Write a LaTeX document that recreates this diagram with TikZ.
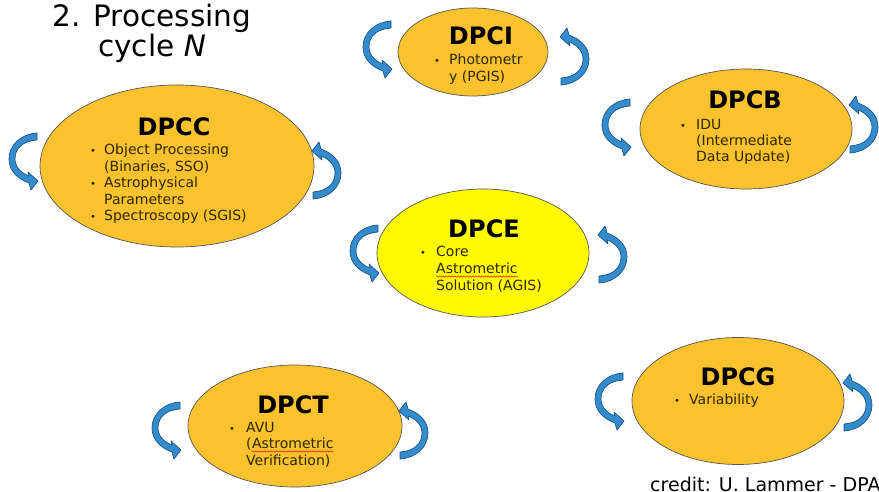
\documentclass[tikz,border=0pt]{standalone}
\usepackage{fontspec}
\setmainfont{DejaVu Sans}
\usetikzlibrary{shapes.geometric,decorations.pathmorphing,calc}

\definecolor{ovalgold}{RGB}{250,194,46}
\definecolor{ovalyellow}{RGB}{255,250,0}
\definecolor{ovalline}{RGB}{85,85,85}
\definecolor{itemtext}{RGB}{45,38,0}
\definecolor{loopfill}{RGB}{52,140,205}
\definecolor{loopline}{RGB}{25,85,135}
\definecolor{spellred}{RGB}{225,30,30}

\tikzset{
  oval/.style={ellipse, draw=ovalline, line width=0.7pt, fill=ovalgold, inner sep=0pt},
  heading/.style={anchor=base, inner sep=0pt, font=\fontsize{24}{28}\selectfont\bfseries},
  itemline/.style={anchor=base west, inner sep=0pt, text=itemtext, font=\fontsize{14}{16}\selectfont},
  itemdot/.style={anchor=base west, inner sep=0pt, text=itemtext, font=\fontsize{10}{12}\selectfont},
  titleline/.style={anchor=base, inner sep=0pt, font=\fontsize{29.5}{34}\selectfont},
  spellmark/.style={draw=spellred, line width=0.5pt, decorate,
    decoration={snake, amplitude=0.7pt, segment length=3pt}},
  % curved block arrow: C-shaped band, head at the lower end pointing right
  cyclearrow/.pic={
    \filldraw[fill=loopfill, draw=loopline, line width=0.7pt, line join=round]
      (28,0) .. controls (12,1) and (0,12) .. (0,26)
             .. controls (0,38) and (9,46) .. (20,50)
      -- (22,57) -- (29,48) -- (19,39) -- (20,43)
             .. controls (12,40) and (6,34) .. (6,26)
             .. controls (6,15) and (14,8) .. (28,7) -- cycle;
  }
}

\begin{document}
\begin{tikzpicture}[x=1pt,y=-1pt]
\useasboundingbox (0,0) rectangle (879,492);
\clip (0,0) rectangle (879,492);

% title
\node[titleline] (title1) at (152,27) {2. Processing};
\node[titleline] (title2) at (152,57) {cycle \textit{N}};

% DPCC
\node[oval, minimum width=274pt, minimum height=162pt] (dpcc) at (177,166) {};
\node[heading] (dpcch) at (174,136) {DPCC};
\node[itemdot]  (dpccd1) at (90,155) {•};
\node[itemline] (dpcc1) at (104,155) {Object Processing};
\node[itemline] (dpcc2) at (104,171.5) {(Binaries, SSO)};
\node[itemdot]  (dpccd2) at (90,188) {•};
\node[itemline] (dpcc3) at (104,188) {Astrophysical};
\node[itemline] (dpcc4) at (104,204.5) {Parameters};
\node[itemdot]  (dpccd3) at (90,221) {•};
\node[itemline] (dpcc5) at (104,221) {Spectroscopy (SGIS)};
\pic at (9,133) {cyclearrow};
\pic[rotate=180] at (341,199) {cyclearrow};

% DPCI
\node[oval, minimum width=150pt, minimum height=88pt] (dpci) at (473,52) {};
\node[heading] (dpcih) at (481,45) {DPCI};
\node[itemdot]  (dpcid1) at (434,65) {•};
\node[itemline] (dpci1) at (449,65) {Photometr};
\node[itemline] (dpci2) at (449,82) {y (PGIS)};
\pic at (363,21) {cyclearrow};
\pic[rotate=180] at (589,85) {cyclearrow};

% DPCB
\node[oval, minimum width=212pt, minimum height=120pt] (dpcb) at (746,129) {};
\node[heading] (dpcbh) at (745,109) {DPCB};
\node[itemdot]  (dpcbd1) at (680,130) {•};
\node[itemline] (dpcb1) at (696,130) {IDU};
\node[itemline] (dpcb2) at (696,146) {(Intermediate};
\node[itemline] (dpcb3) at (696,162) {Data Update)};
\pic at (602,99) {cyclearrow};
\pic[rotate=180] at (878,153) {cyclearrow};

% DPCE
\node[oval, fill=ovalyellow, minimum width=212pt, minimum height=128pt] (dpce) at (483,253) {};
\node[heading] (dpceh) at (484,237) {DPCE};
\node[itemdot]  (dpced1) at (420,257) {•};
\node[itemline] (dpce1) at (436,257) {Core};
\node[itemline] (dpce2) at (436,273) {Astrometric};
\node[itemline] (dpce3) at (436,290) {Solution (AGIS)};
\draw[spellmark] ($(dpce2.base west)+(0,3.5)$) -- ($(dpce2.base east)+(0,3.5)$);
\pic at (350,225) {cyclearrow};
\pic[rotate=180] at (627,283) {cyclearrow};

% DPCT
\node[oval, minimum width=214pt, minimum height=122pt] (dpct) at (295,426) {};
\node[heading] (dpcth) at (293,413) {DPCT};
\node[itemdot]  (dpctd1) at (229,432) {•};
\node[itemline] (dpct1) at (246,432) {AVU};
\node[itemline] (dpct2) at (246,448) {(};
\node[itemline] (dpct2b) at (dpct2.base east) {Astrometric};
\node[itemline] (dpct3) at (246,465) {Verification)};
\draw[spellmark] ($(dpct2b.base west)+(0,3.5)$) -- ($(dpct2b.base east)+(0,3.5)$);
\pic at (152,402) {cyclearrow};
\pic[rotate=180] at (428,459) {cyclearrow};

% DPCG
\node[oval, minimum width=212pt, minimum height=127pt] (dpcg) at (738,401) {};
\node[heading] (dpcgh) at (738,385) {DPCG};
\node[itemdot]  (dpcgd1) at (674,404) {•};
\node[itemline] (dpcg1) at (689,404) {Variability};
\pic at (595,373) {cyclearrow};
\pic[rotate=180] at (872,431) {cyclearrow};

% credit line
\node[anchor=base west, inner sep=0pt, font=\fontsize{19}{22}\selectfont] (credit) at (650,491) {credit: U. Lammer - DPA};
\end{tikzpicture}
\end{document}
